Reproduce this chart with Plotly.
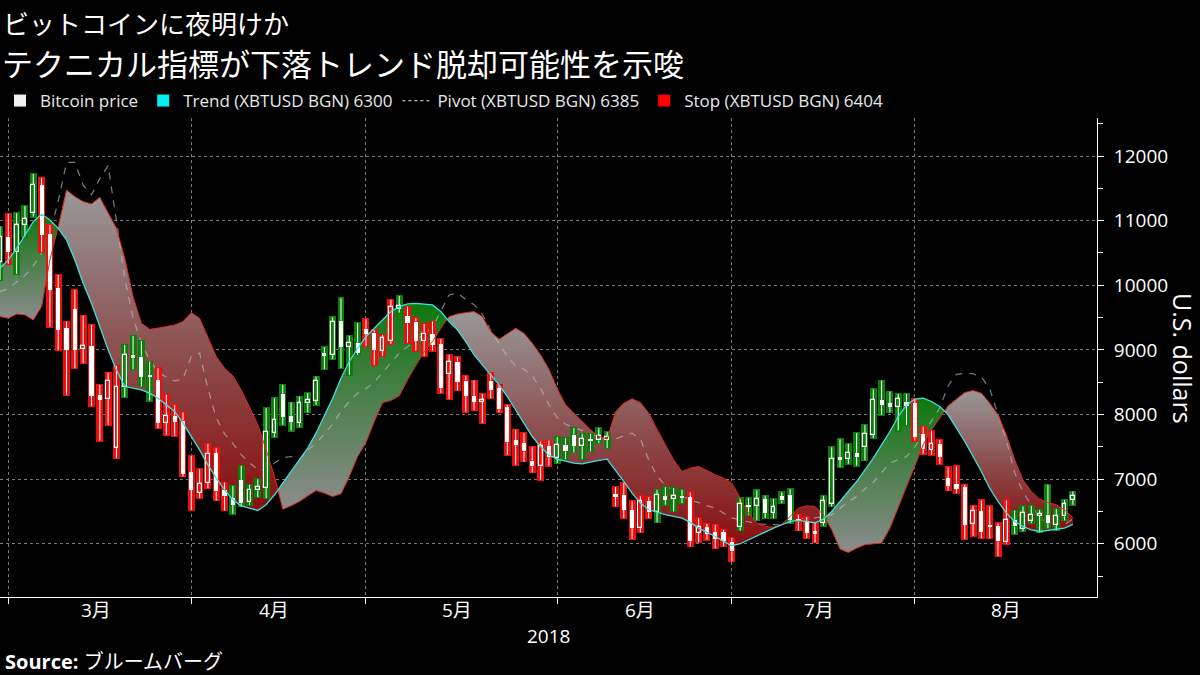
import numpy as np
import pandas as pd
import plotly.graph_objects as go

# ---------------- data ----------------
dates = pd.bdate_range("2018-02-28", "2018-08-28")   # trading days (weekdays)

open_ = [10365, 10752, 10520, 10933, 11113, 11551, 10794, 9953, 9335, 9629,
         9010, 9062, 8304, 8237, 7479, 8422, 8922, 8897, 8613, 8536,
         7876, 7979, 7907, 7103, 6793, 6937, 7402, 6835, 6706, 6989,
         6639, 6825, 6860, 7711, 8319, 7979, 7876, 8175, 8216, 8948,
         8922, 9453, 9051, 9113, 9319, 9268, 8989, 9144, 9629, 9526,
         9438, 9144, 9247, 9093, 8629, 8820, 8526, 8288, 8196, 8526,
         8407, 8113, 7598, 7556, 7288, 7196, 7505, 7325, 7531, 7686,
         7505, 7619, 7598, 7609, 6773, 6758, 6526, 6242, 6655, 6485,
         6732, 6691, 6742, 6722, 6165, 6258, 6175, 6175, 6021, 6258,
         6603, 6588, 6691, 6474, 6732, 6758, 6382, 6345, 6191, 6319,
         6618, 7340, 7309, 7402, 7494, 7685, 8227, 8175, 8123, 8200,
         8175, 7701, 7453, 7546, 7015, 6927, 6876, 6309, 6500, 6293,
         6267, 6020, 6371, 6226, 6345, 6432, 6448, 6293, 6422, 6680]
high = [10907, 11103, 11113, 11227, 11722, 11654, 10933, 10160, 9438, 9928,
        9525, 9386, 8458, 8649, 8752, 9077, 9216, 9139, 8819, 8716,
        8304, 8149, 8030, 7360, 7154, 7546, 7479, 6948, 6896, 7206,
        6912, 7000, 8098, 8252, 8459, 8185, 8278, 8330, 8587, 9041,
        9505, 9799, 9216, 9412, 9474, 9309, 9232, 9773, 9835, 9670,
        9489, 9402, 9438, 9165, 8923, 8887, 8598, 8526, 8319, 8639,
        8459, 8149, 7762, 7711, 7495, 7582, 7598, 7650, 7634, 7789,
        7701, 7701, 7789, 7727, 6876, 6938, 6655, 6732, 6722, 6835,
        6876, 6861, 6835, 6794, 6397, 6309, 6294, 6216, 6088, 6706,
        6706, 6825, 6742, 6691, 6794, 6846, 6449, 6412, 6320, 6742,
        7494, 7618, 7546, 7711, 7840, 8391, 8525, 8355, 8319, 8319,
        8237, 7814, 7752, 7607, 7185, 7196, 6912, 6587, 6670, 6577,
        6319, 6670, 6515, 6577, 6587, 6525, 6912, 6535, 6680, 6809]
low = [10082, 10330, 10175, 10752, 11062, 10520, 9360, 9000, 8304, 8716,
       8793, 8134, 7597, 7840, 7324, 8268, 8701, 8433, 8216, 7788,
       7685, 7670, 7041, 6525, 6706, 6860, 6670, 6515, 6464, 6577,
       6603, 6721, 6706, 7649, 7840, 7752, 7804, 8031, 8149, 8701,
       8855, 8716, 8613, 8923, 9062, 8768, 8907, 9093, 9577, 9113,
       8989, 8907, 8989, 8330, 8237, 8371, 8046, 8062, 7866, 8252,
       8031, 7376, 7221, 7273, 7103, 6989, 7206, 7248, 7309, 7412,
       7309, 7428, 7557, 7480, 6577, 6397, 6072, 6175, 6397, 6330,
       6603, 6500, 6629, 5959, 6021, 6062, 5933, 5959, 5727, 6206,
       6449, 6361, 6397, 6397, 6629, 6320, 6206, 6088, 6021, 6278,
       6577, 7185, 7237, 7206, 7288, 7634, 7994, 8031, 7752, 7840,
       7597, 7391, 7376, 7237, 6824, 6783, 6072, 6123, 6087, 6087,
       5814, 6000, 6154, 6190, 6319, 6175, 6242, 6206, 6360, 6603]
close = [10750, 10520, 10933, 11020, 11551, 10778, 9928, 9309, 9000, 9000,
         9062, 8288, 8226, 8525, 8433, 8922, 8871, 8587, 8587, 7866,
         7979, 7891, 7082, 6835, 6927, 7391, 6809, 6732, 6603, 6628,
         6835, 6876, 7737, 7917, 7969, 7891, 8185, 8227, 8526, 8907,
         9438, 9051, 9113, 8958, 9247, 9000, 9180, 9660, 9680, 9412,
         9144, 9247, 9077, 8407, 8820, 8510, 8288, 8201, 8227, 8381,
         8082, 7567, 7530, 7428, 7196, 7505, 7350, 7531, 7428, 7516,
         7619, 7588, 7660, 7650, 6722, 6526, 6242, 6655, 6485, 6758,
         6680, 6742, 6706, 6036, 6258, 6155, 6072, 6036, 5881, 6619,
         6567, 6691, 6474, 6567, 6670, 6371, 6345, 6165, 6155, 6654,
         7309, 7299, 7402, 7340, 7701, 8227, 8149, 8123, 8237, 8134,
         7649, 7463, 7546, 7350, 6896, 6845, 6293, 6500, 6175, 6257,
         6036, 6371, 6267, 6474, 6448, 6463, 6319, 6422, 6618, 6742]
# background box of each candle: G = green, R = red
box_dir = list("G" "R" "GGG" "RRRRRRRRRR" "GGGG" "RRRRRRRRR" "GGGGGGGGGGGGGGGG"
               "RRRR" "G" "RRRRRRRRRRRRRRRRRR" "GGGGGGG" "RRRRR" "GGGG" "RRRRRR"
               "GGGGGGG" "RRR" "GGGGGGGGGGG" "RRRRRRRRRRRR" "GGGGGGGG")

trend = [10263, 10392, 10572, 10778, 10984, 11098, 11010, 10881, 10701, 10392,
         10031, 9721, 9360, 9000, 8690, 8433, 8407, 8381, 8330, 8252,
         8149, 8046, 7866, 7659, 7453, 7221, 7015, 6835, 6680, 6587,
         6551, 6515, 6603, 6758, 6938, 7118, 7299, 7479, 7711, 7969,
         8252, 8562, 8819, 9025, 9206, 9335, 9464, 9593, 9670, 9711,
         9721, 9711, 9696, 9593, 9438, 9309, 9129, 8923, 8768, 8613,
         8459, 8278, 8072, 7866, 7659, 7505, 7370, 7309, 7273, 7248,
         7237, 7268, 7289, 7309, 7144, 6964, 6784, 6629, 6526, 6485,
         6449, 6423, 6397, 6330, 6242, 6175, 6113, 6036, 5969, 6000,
         6062, 6124, 6186, 6242, 6294, 6345, 6361, 6340, 6325, 6381,
         6500, 6654, 6809, 6963, 7144, 7324, 7530, 7737, 7969, 8149,
         8237, 8252, 8201, 8123, 7994, 7788, 7582, 7350, 7118, 6860,
         6654, 6474, 6345, 6267, 6216, 6190, 6206, 6216, 6242, 6300]
stop = [9515, 9489, 9556, 9541, 9463, 9670, 10392, 10907, 11474, 11371,
        11294, 11258, 11361, 11113, 10881, 10417, 9824, 9412, 9319, 9335,
        9360, 9386, 9438, 9577, 9489, 9206, 8897, 8716, 8598, 8381,
        8123, 7840, 7453, 7041, 6535, 6587, 6654, 6742, 6824, 6783,
        6731, 6773, 7041, 7350, 7566, 7891, 8185, 8216, 8288, 8536,
        8767, 8974, 9128, 9335, 9515, 9556, 9577, 9592, 9515, 9283,
        9164, 9247, 9335, 9257, 9103, 8922, 8700, 8400, 8150, 8020,
        7892, 7763, 7660, 7620, 8040, 8175, 8242, 8185, 8020, 7763,
        7531, 7299, 7118, 7170, 7196, 7134, 7067, 7015, 6938, 6706,
        6474, 6319, 6268, 6255, 6300, 6422, 6551, 6587, 6577, 6448,
        6216, 5917, 5865, 5932, 5984, 5999, 6010, 6242, 6577, 6886,
        7206, 7530, 7762, 7943, 8134, 8237, 8340, 8371, 8330, 8175,
        7994, 7685, 7299, 6989, 6809, 6690, 6639, 6603, 6525, 6404]
pivot = [9900, 9950, 10050, 10150, 10300, 10500, 10800, 11300, 11900, 11900,
         11550, 11400, 11650, 11850, 11000, 10100, 9500, 9100, 8850, 8650,
         8580, 8520, 8550, 8900, 8950, 8400, 7950, 7700, 7550, 7380,
         7250, 7150, 7130, 7250, 7330, 7350, 7300, 7450, 7550, 7700,
         7850, 8050, 8200, 8330, 8400, 8500, 8650, 8800, 8950, 9050,
         9150, 9250, 9350, 9600, 9850, 9880, 9780, 9700, 9550, 9300,
         9100, 8900, 8750, 8700, 8600, 8400, 8150, 7950, 7850, 7800,
         7750, 7700, 7650, 7620, 7620, 7670, 7710, 7620, 7300, 7050,
         6900, 6820, 6740, 6680, 6630, 6590, 6550, 6470, 6400, 6370,
         6340, 6310, 6300, 6290, 6290, 6330, 6380, 6400, 6400, 6420,
         6450, 6550, 6650, 6730, 6850, 6950, 7100, 7250, 7300, 7350,
         7500, 7700, 7900, 8100, 8450, 8620, 8640, 8630, 8580, 8400,
         8000, 7600, 7100, 6800, 6600, 6400, 6330, 6260, 6300, 6385]

month_labels = ["3月", "4月", "5月", "6月", "7月", "8月"]
legend_names = ["Bitcoin price", "Trend (XBTUSD BGN) 6300",
                "Pivot (XBTUSD BGN) 6385", "Stop (XBTUSD BGN) 6404"]
y_ticks = [6000, 7000, 8000, 9000, 10000, 11000, 12000]

# ---------------- styling ----------------
GREEN = "#0b7f0b"
RED = "#f00d0d"
CYAN = "#3fe0e0"
STOPRED = "#e3261e"
FONT = "Open Sans, Noto Sans CJK JP, sans-serif"
JFONT = "Noto Sans CJK JP, sans-serif"
Y_RANGE = [5176, 12588]
X_RANGE = [-1.0, 130.9]

x = np.arange(len(dates)) - 1          # 0 = 2018-03-01
o = np.array(open_, float); h = np.array(high, float)
l = np.array(low, float); c = np.array(close, float)
t = np.array(trend, float); s = np.array(stop, float)

fig = go.Figure()

# ---- trend/stop bands with vertical gradients ----
def split_regions(xv, tv, sv):
    regions = []
    cx, ct, cs = [xv[0]], [tv[0]], [sv[0]]
    for i in range(len(xv) - 1):
        d0 = sv[i] - tv[i]
        d1 = sv[i + 1] - tv[i + 1]
        if d0 * d1 < 0:
            f = d0 / (d0 - d1)
            xc = xv[i] + f * (xv[i + 1] - xv[i])
            yc = tv[i] + f * (tv[i + 1] - tv[i])
            cx.append(xc); ct.append(yc); cs.append(yc)
            regions.append((cx, ct, cs, d0 > 0))
            cx, ct, cs = [xc], [yc], [yc]
        cx.append(xv[i + 1]); ct.append(tv[i + 1]); cs.append(sv[i + 1])
    regions.append((cx, ct, cs, (sv[-1] - tv[-1]) > 0))
    return regions

for rx, rt, rs, down in split_regions(list(map(float, x)), t, s):
    px = list(rx) + list(rx[::-1])
    py = list(rt) + list(rs[::-1])
    if down:
        cs_ = [[0, "rgb(138,14,14)"], [0.45, "rgb(140,72,72)"], [1, "rgb(152,152,152)"]]
    else:
        cs_ = [[0, "rgb(140,140,140)"], [0.5, "rgb(80,128,80)"], [1, "rgb(14,120,14)"]]
    fig.add_trace(go.Scatter(x=px, y=py, mode="lines", fill="toself",
                             line=dict(width=0), showlegend=False, hoverinfo="skip",
                             fillgradient=dict(type="vertical", colorscale=cs_)))

# pivot dashed line (under the candles)
fig.add_trace(go.Scatter(x=x, y=pivot, mode="lines", showlegend=False,
                         line=dict(color="rgba(190,190,190,0.65)", width=1.2, dash="7px,7px")))

# ---- candles (overlay axis so they sit above the bands) ----
pad = 15
box_colors = [GREEN if d == "G" else RED for d in box_dir]
fig.add_trace(go.Bar(x=x, y=(h - l) + 2 * pad, base=l - pad, width=0.84,
                     marker=dict(color=box_colors, line=dict(width=0)),
                     yaxis="y2", showlegend=False))

bt = np.maximum(o, c); bb = np.minimum(o, c)
wx, wy = [], []
for xi, lo, b0, b1, hi in zip(x, l, bb, bt, h):
    wx += [xi, xi, None, xi, xi, None]
    wy += [lo, b0, None, b1, hi, None]
fig.add_trace(go.Scatter(x=wx, y=wy, mode="lines", yaxis="y2", showlegend=False,
                         line=dict(color="white", width=1), hoverinfo="skip"))

body_h = np.maximum(bt - bb, 22)
filled = c < o
fig.add_trace(go.Bar(x=x[filled], y=body_h[filled], base=bb[filled], width=0.5,
                     marker=dict(color="white", line=dict(width=0)),
                     yaxis="y2", showlegend=False))
hol = ~filled
fig.add_trace(go.Bar(x=x[hol], y=body_h[hol], base=bb[hol], width=0.46,
                     marker=dict(color=[box_colors[i] for i in np.where(hol)[0]],
                                 line=dict(color="white", width=1.2)),
                     yaxis="y2", showlegend=False))

# stop & trend lines on top
fig.add_trace(go.Scatter(x=x, y=stop, mode="lines", yaxis="y2", showlegend=False,
                         line=dict(color=STOPRED, width=1)))
fig.add_trace(go.Scatter(x=x, y=trend, mode="lines", yaxis="y2", showlegend=False,
                         line=dict(color=CYAN, width=1.3)))

# ---- legend entries ----
fig.add_trace(go.Scatter(x=[None], y=[None], mode="markers", name=legend_names[0],
                         marker=dict(symbol="square", size=12, color="#f0f0f0")))
fig.add_trace(go.Scatter(x=[None], y=[None], mode="markers", name=legend_names[1],
                         marker=dict(symbol="square", size=12, color="#00f0f0")))
fig.add_trace(go.Scatter(x=[None], y=[None], mode="lines", name=legend_names[2],
                         line=dict(color="#bbbbbb", width=1.2, dash="3px,3px")))
fig.add_trace(go.Scatter(x=[None], y=[None], mode="markers", name=legend_names[3],
                         marker=dict(symbol="square", size=12, color="#ff0000")))

# ---- axes ----
month_first = [int(np.where((dates.month == m))[0][0]) - 1 for m in range(3, 9)]
month_centers = []
for m in range(3, 9):
    full = pd.bdate_range(f"2018-{m:02d}-01", periods=31, freq="B")
    full = full[full.month == m]
    first = month_first[m - 3]
    month_centers.append(first + (len(full) - 1) / 2)

PLOT_L, PLOT_R, PLOT_T, PLOT_B = 0, 1097, 118, 597
def px2paper(px, py):
    return (px - PLOT_L) / (PLOT_R - PLOT_L), (PLOT_B - py) / (PLOT_B - PLOT_T)

grid = dict(showgrid=True, gridcolor="#7a7a7a", griddash="dot", gridwidth=1)
fig.update_layout(
    width=1200, height=675,
    paper_bgcolor="black", plot_bgcolor="black",
    margin=dict(l=PLOT_L, r=1200 - PLOT_R, t=PLOT_T, b=675 - PLOT_B, autoexpand=False),
    barmode="overlay", bargap=0,
    font=dict(family=FONT, color="white"),
    showlegend=True,
    legend=dict(orientation="h", x=0, xanchor="left",
                yref="container", y=1 - 101 / 675, yanchor="middle",
                font=dict(size=17, color="#e8e8e8", family=FONT),
                bgcolor="rgba(0,0,0,0)", itemwidth=30, tracegroupgap=0),
    xaxis=dict(range=X_RANGE, tickmode="array", tickvals=month_first,
               showticklabels=False, ticks="outside", ticklen=6, tickcolor="white",
               showline=True, linecolor="white", linewidth=1, zeroline=False, **grid),
    yaxis=dict(range=Y_RANGE, side="right", tickmode="array", tickvals=y_ticks,
               ticktext=[str(v) for v in y_ticks],
               ticks="outside", ticklen=6, tickcolor="white", tickwidth=1,
               ticklabelstandoff=6,
               tickfont=dict(size=19, color="white", family=FONT),
               showline=True, linecolor="white", linewidth=1, zeroline=False,
               minor=dict(dtick=500, tick0=0, ticks="outside", ticklen=5,
                          tickcolor="white", showgrid=False),
               **grid),
    yaxis2=dict(range=Y_RANGE, overlaying="y", side="right", visible=False,
                showgrid=False, zeroline=False),
)

ann = []
for mc, lab in zip(month_centers, month_labels):
    ann.append(dict(x=mc, xref="x", y=px2paper(0, 610)[1], yref="paper",
                    text=lab, showarrow=False, xanchor="center", yanchor="middle",
                    font=dict(size=19, color="white", family=FONT)))
ax, ay = px2paper(548, 636)
ann.append(dict(x=ax, y=ay, xref="paper", yref="paper", text="2018", showarrow=False,
                xanchor="center", yanchor="middle", font=dict(size=19, color="white", family=FONT)))
ax, ay = px2paper(1183, 358)
ann.append(dict(x=ax, y=ay, xref="paper", yref="paper", text="U.S. dollars", showarrow=False,
                textangle=90, xanchor="center", yanchor="middle",
                font=dict(size=25, color="white", family=FONT)))
ax, ay = px2paper(1, 22)
ann.append(dict(x=ax, y=ay, xref="paper", yref="paper", text="ビットコインに夜明けか",
                showarrow=False, xanchor="left", yanchor="middle",
                font=dict(size=26, color="white", family=JFONT)))
ax, ay = px2paper(0, 62)
ann.append(dict(x=ax, y=ay, xref="paper", yref="paper",
                text="テクニカル指標が下落トレンド脱却可能性を示唆",
                showarrow=False, xanchor="left", yanchor="middle",
                font=dict(size=31, color="white", family=JFONT)))
ax, ay = px2paper(3, 661)
ann.append(dict(x=ax, y=ay, xref="paper", yref="paper",
                text="<b>Source:</b> ブルームバーグ",
                showarrow=False, xanchor="left", yanchor="middle",
                font=dict(size=20, color="white", family=FONT)))
fig.update_layout(annotations=ann)

fig.write_html("out.html", config={"displayModeBar": False},
               post_script="document.body.style.margin='0';document.body.style.overflow='hidden';")
